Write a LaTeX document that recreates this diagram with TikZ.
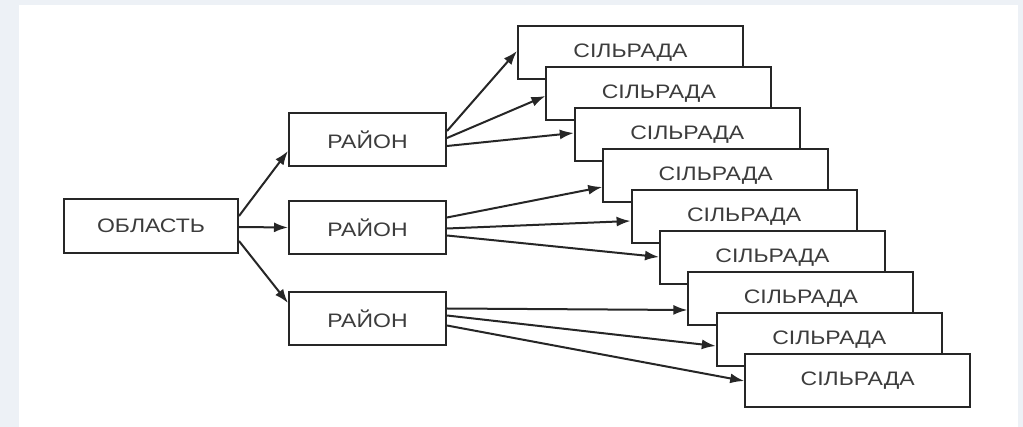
\documentclass[tikz,border=0pt]{standalone}
\usepackage{fontspec}
\setmainfont{Liberation Sans}
\usetikzlibrary{arrows.meta}
\definecolor{bgc}{HTML}{EDF1F6}
\definecolor{ink}{HTML}{262626}
\definecolor{txt}{HTML}{3C3C3C}
\newcommand\widetxt[1]{\scalebox{1.18}[1]{#1}}
\begin{document}
\begin{tikzpicture}[x=1pt,y=-1pt,
  box/.style={draw=ink, line width=2pt, fill=white, rectangle, inner sep=0pt,
    anchor=north west, font=\fontsize{19.5}{19.5}\selectfont, text=txt},
  sil/.style={box, minimum width=225pt, minimum height=53pt},
  ray/.style={box, minimum width=157pt, minimum height=53pt},
  arr/.style={draw=ink, line width=2pt, -{Latex[length=14pt,width=10pt]}}]
\fill[bgc] (0,0) rectangle (1023,427);
\fill[white] (19,5) rectangle (1018,427);
\useasboundingbox (0,0) rectangle (1023,427);

\node[box, minimum width=174pt, minimum height=54pt] (obl) at (63,198) {\widetxt{ОБЛАСТЬ}};
\node[ray] (r1) at (288,112) {\widetxt{РАЙОН}};
\node[ray] (r2) at (288,200) {\widetxt{РАЙОН}};
\node[ray] (r3) at (288,291) {\widetxt{РАЙОН}};

\foreach \i in {1,...,9}
  \node[sil] (s\i) at ({517+28.4*(\i-1)},{25+41*(\i-1)}) {\widetxt{СІЛЬРАДА}};

\draw[arr] ([yshift=10pt]obl.east) -- ([yshift=-11.5pt]r1.west);
\draw[arr] ([yshift=-1pt]obl.east) -- ([yshift=0pt]r2.west);
\draw[arr] ([yshift=-15pt]obl.east) -- ([yshift=15.5pt]r3.west);

\draw[arr] ([yshift=8.5pt]r1.east) -- ([yshift=1.5pt]s1.west);
\draw[arr] ([yshift=1.5pt]r1.east) -- ([yshift=-2.5pt]s2.west);
\draw[arr] ([yshift=-6.5pt]r1.east) -- ([yshift=1.5pt]s3.west);

\draw[arr] ([yshift=10pt]r2.east) -- ([yshift=-11.5pt]s4.west);
\draw[arr] ([yshift=-1pt]r2.east) -- ([yshift=-4.5pt]s5.west);
\draw[arr] ([yshift=-8pt]r2.east) -- ([yshift=0.5pt]s6.west);

\draw[arr] ([yshift=10pt]r3.east) -- ([yshift=-11.5pt]s7.west);
\draw[arr] ([yshift=3pt]r3.east) -- ([yshift=-6.5pt]s8.west);
\draw[arr] ([yshift=-7pt]r3.east) -- ([yshift=-0.5pt]s9.west);
\end{tikzpicture}
\end{document}
